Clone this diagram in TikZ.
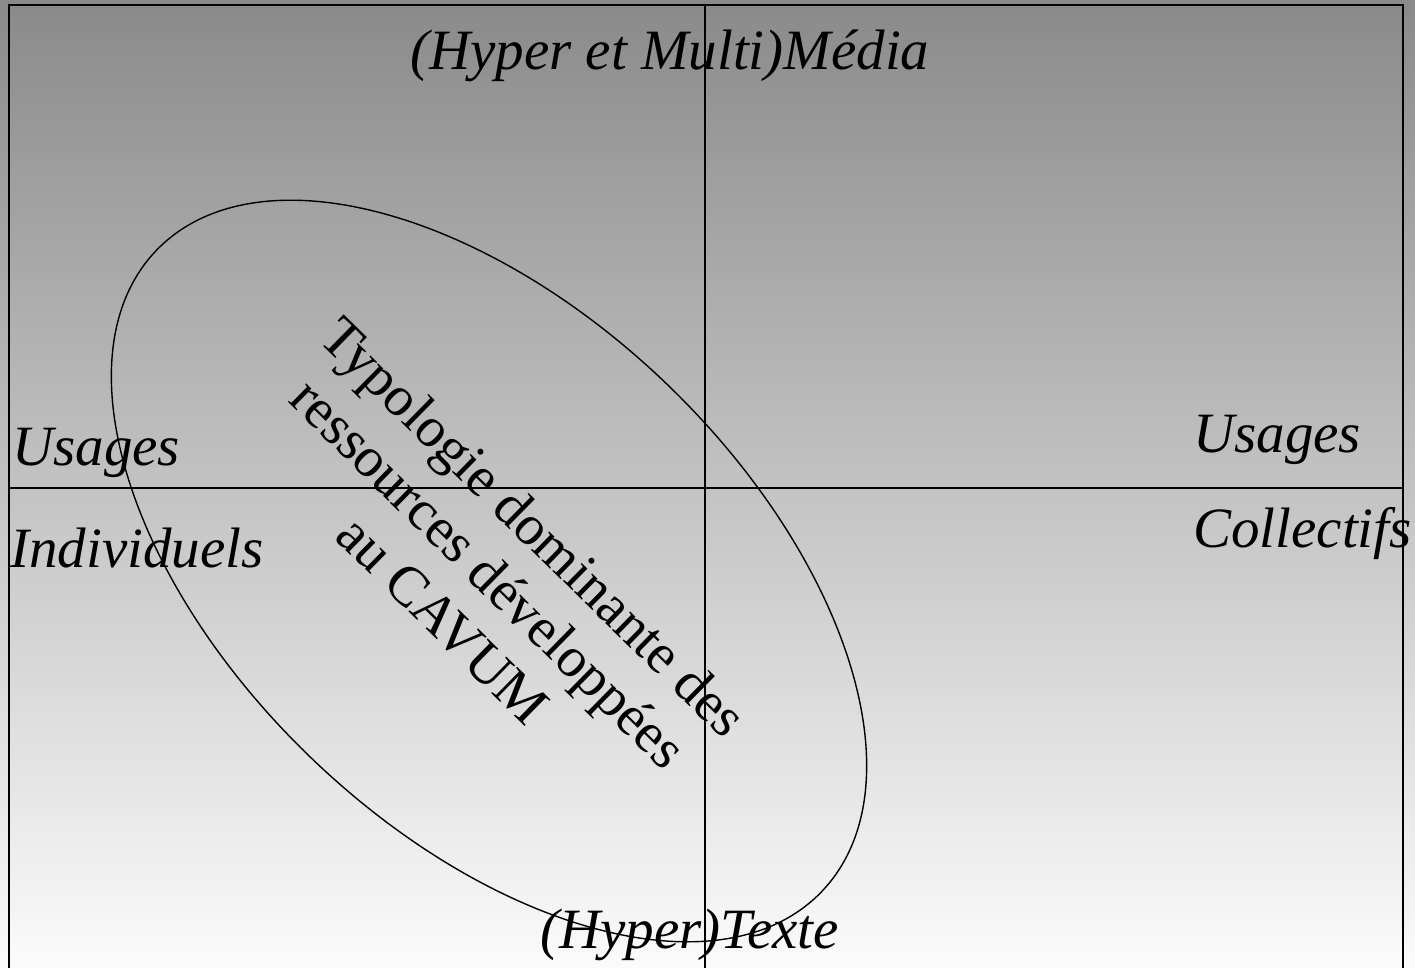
\documentclass[tikz,border=0pt]{standalone}
\usepackage{fontspec}
\setmainfont{Liberation Serif}
\usetikzlibrary{shapes.geometric}
\definecolor{bgtop}{gray}{0.54}
\definecolor{bgmid}{gray}{0.79}
\definecolor{bgbot}{gray}{0.985}
\begin{document}
\begin{tikzpicture}[x=1pt,y=-1pt,
  lbl/.style={font=\fontsize{57}{64}\selectfont\itshape, inner sep=0pt, anchor=base west},
  frame/.style={line width=2pt, black},
  axisline/.style={line width=1.6pt, black},
  oval/.style={draw, ellipse, line width=1.4pt, inner sep=0pt, outer sep=0pt}]
\useasboundingbox (0,0) rectangle (1415,968);
\clip (0,0) rectangle (1415,968);
\shade[top color=bgtop, middle color=bgmid, bottom color=bgbot] (0,0) rectangle (1415,968);
% frame
\coordinate (TL) at (8.5,5);
\coordinate (TR) at (1402.5,5);
\coordinate (BL) at (8.5,980);
\coordinate (BR) at (1402.5,980);
\draw[frame] (BL) -- (TL) -- (TR) -- (BR);
% axes
\coordinate (vt) at (705,5);
\coordinate (vb) at (705,980);
\coordinate (hl) at (8.5,488);
\coordinate (hr) at (1402.5,488);
\draw[axisline] (vt) -- (vb);
\draw[axisline] (hl) -- (hr);
% ellipse
\node[oval, minimum width=924pt, minimum height=516pt, rotate=-44] (zone) at (489,571) {};
% labels
\node[lbl] (media) at (410,70) {(Hyper et Multi)Média};
\node[lbl] (texte) at (540,948) {(Hyper)Texte};
\node[lbl] (usi) at (12,465) {Usages};
\node[lbl] (ind) at (10,567) {Individuels};
\node[lbl] (usc) at (1193,452) {Usages};
\node[lbl] (col) at (1193,547) {Collectifs};
\node[rotate=-44.5, align=center, inner sep=0pt, font=\fontsize{56.5}{65}\selectfont] (typo) at (489,573)
  {Typologie dominante des\\ressources développées\\au CAVUM};
\end{tikzpicture}
\end{document}
